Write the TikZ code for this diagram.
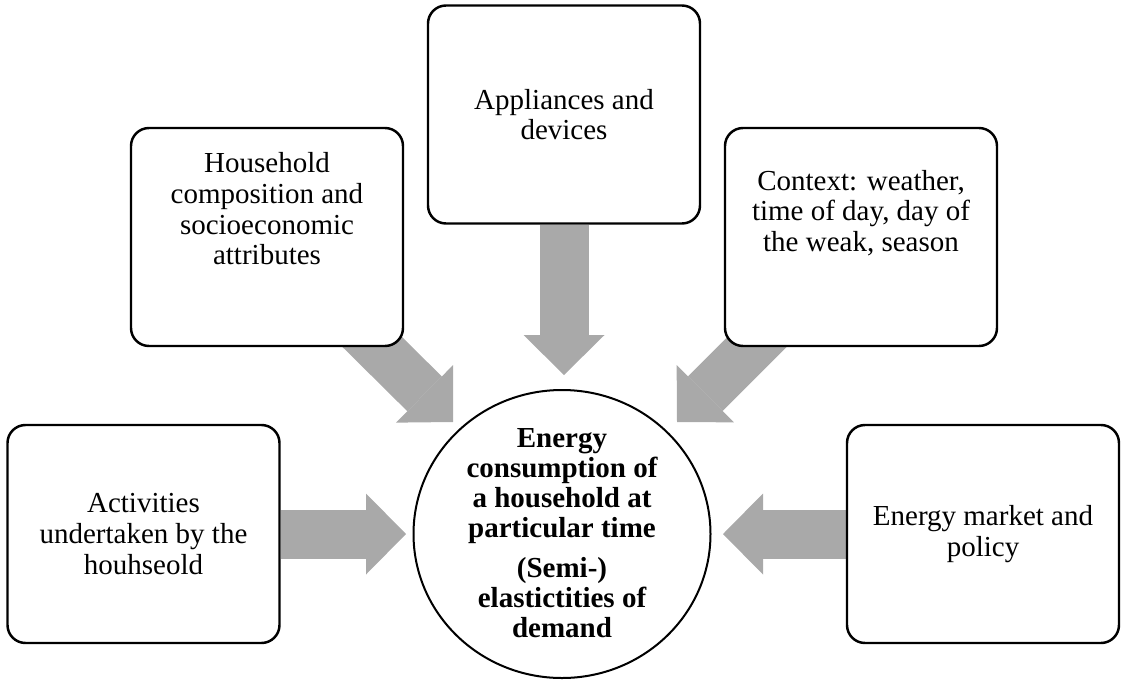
\documentclass[tikz,border=0pt]{standalone}
\usepackage{fontspec}
\setmainfont{Liberation Serif}
\usetikzlibrary{arrows.meta,shapes.geometric}
\definecolor{arrowgray}{HTML}{A9A9A9}
\pgfdeclarelayer{background}
\pgfsetlayers{background,main}
\begin{document}
\begin{tikzpicture}[x=0.75pt,y=-0.75pt,
  every node/.style={font=\fontsize{21.75pt}{23pt}\selectfont},
  box/.style={draw=black, line width=1.85pt, fill=white, rounded corners=13.5pt,
    minimum width=204pt, minimum height=163.5pt, align=center, inner sep=0pt},
  txt/.style={align=center, inner sep=0pt},
  hub/.style={draw=black, line width=1.5pt, fill=white, ellipse,
    minimum width=222.75pt, minimum height=216pt, inner sep=0pt},
  blockarrow/.style={draw=arrowgray, line width=36.75pt,
    -{Triangle[length=30pt,width=60.75pt,line width=0pt]}}]
\useasboundingbox (0,0) rectangle (1121,679);

% boxes
\node[box] (act) at (143.5,534) {Activities\\undertaken by the\\houhseold};
\node[box] (hh)  at (267,237) {};
\node[txt] (hhtext) at (267,209) {Household\\composition and\\socioeconomic\\attributes};
\node[box] (app) at (564,114.5) {Appliances and\\devices};
\node[box] (ctx) at (861,237) {};
\node[txt] (ctxtext) at (861,213) {Context: weather,\\time of day, day of\\the weak, season};
\node[box] (mkt) at (983,534) {Energy market and\\policy};

% hub
\node[hub] (hub) at (562,534) {};
\node[txt, font=\fontsize{21.75pt}{22.5pt}\selectfont\bfseries] (hubtext) at (562,533)
  {Energy\\consumption of\\a household at\\particular time\\[8pt](Semi-)\\elastictities of\\demand};

% arrow end points
\coordinate (tipA) at (406,534);
\coordinate (tipM) at (723,534);
\coordinate (tipP) at (564,375);
\coordinate (startH) at (345,315);
\coordinate (tipH) at (453,422);
\coordinate (startC) at (780,319);
\coordinate (tipC) at (677,422);

\begin{pgfonlayer}{background}
\draw[blockarrow] (act.east) -- (tipA);
\draw[blockarrow] (mkt.west) -- (tipM);
\draw[blockarrow] (app.south) -- (tipP);
\draw[blockarrow] (startH) -- (tipH);
\draw[blockarrow] (startC) -- (tipC);
\end{pgfonlayer}
\end{tikzpicture}
\end{document}
